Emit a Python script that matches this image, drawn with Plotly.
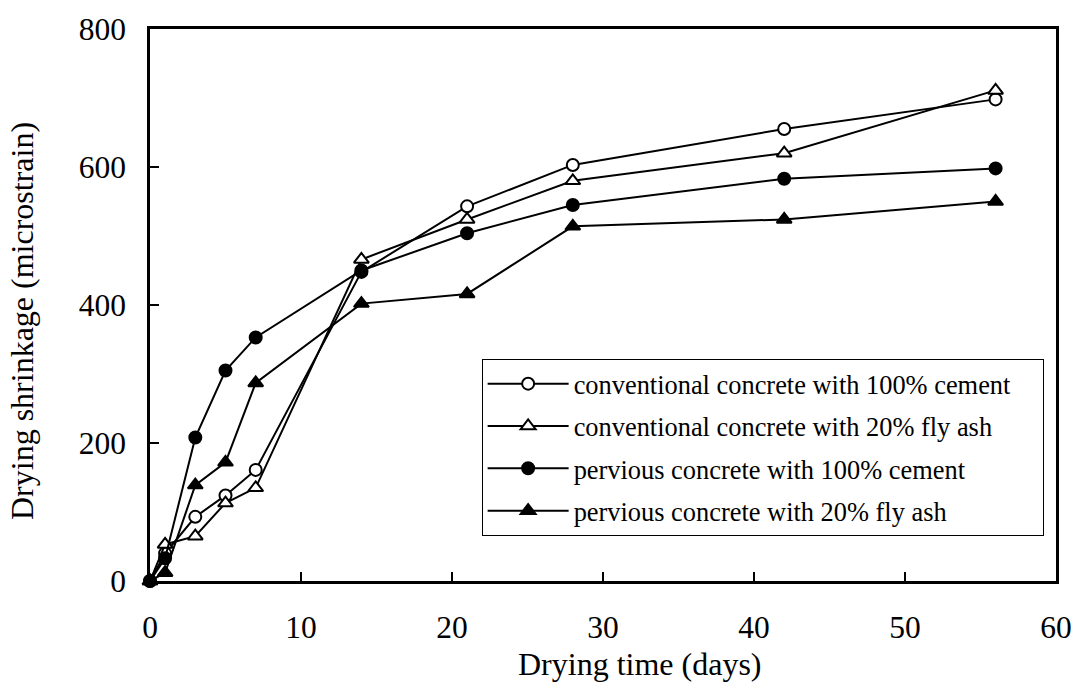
import plotly.graph_objects as go

days = [0, 1, 3, 5, 7, 14, 21, 28, 42, 56]
conv_cement = [0, 40, 93, 124, 161, 448, 543, 603, 655, 698]
conv_flyash = [0, 53, 65, 113, 135, 466, 524, 580, 620, 711]
perv_cement = [0, 33, 208, 305, 353, 450, 504, 545, 583, 598]
perv_flyash = [0, 12, 139, 172, 287, 402, 416, 514, 524, 550]

names = [
    "conventional concrete with 100% cement\u00a0\u00a0\u00a0\u00a0",
    "conventional concrete with 20% fly ash",
    "pervious concrete with 100% cement",
    "pervious concrete with 20% fly ash",
]
series = [conv_cement, conv_flyash, perv_cement, perv_flyash]
symbols = ["circle", "triangle-up", "circle", "triangle-up"]
fills = ["white", "white", "black", "black"]

x_ticks = [0, 10, 20, 30, 40, 50, 60]
y_ticks = [0, 200, 400, 600, 800]

FONT = "Liberation Serif"
TICK_SIZE = 31.5
TITLE_SIZE = 32
LEG_SIZE = 26.4

fig = go.Figure()
for i, (name, ys, sym, fc) in enumerate(zip(names, series, symbols, fills)):
    fig.add_trace(go.Scatter(
        x=days, y=ys, name=name, mode="lines+markers",
        legendgroup=f"g{i}",
        line=dict(color="black", width=2),
        marker=dict(symbol=sym, size=12 if sym == "circle" else 13,
                    color=fc, line=dict(color="black", width=2)),
        cliponaxis=False,
    ))

fig.update_layout(
    width=1084, height=687,
    margin=dict(l=150, r=27, t=24, b=106),
    paper_bgcolor="white", plot_bgcolor="white",
    font=dict(family=FONT, size=TICK_SIZE, color="black"),
    showlegend=True,
    legend=dict(
        x=(482 - 150) / 907, y=(581 - 357) / 557, xanchor="left", yanchor="top",
        bgcolor="white", bordercolor="black", borderwidth=1,
        font=dict(family=FONT, size=LEG_SIZE, color="black"),
        itemwidth=81, tracegroupgap=5,
    ),
    xaxis=dict(
        range=[0, 60], tickvals=x_ticks,
        ticks="inside", ticklen=9, tickwidth=2, tickcolor="black",
        showline=True, linecolor="black", linewidth=2.5, mirror=True,
        showgrid=False, zeroline=False,
        tickfont=dict(family=FONT, size=TICK_SIZE),
        ticklabelstandoff=16,
    ),
    yaxis=dict(
        range=[0, 800], tickvals=y_ticks,
        ticks="inside", ticklen=9, tickwidth=2, tickcolor="black",
        showline=True, linecolor="black", linewidth=2.5, mirror=True,
        showgrid=False, zeroline=False,
        tickfont=dict(family=FONT, size=TICK_SIZE),
        ticklabelstandoff=15,
    ),
    annotations=[
        dict(text="Drying time (days)", xref="paper", yref="paper",
             x=(641 - 150) / 907, y=(581 - 665) / 557,
             xanchor="center", yanchor="middle", showarrow=False,
             font=dict(family=FONT, size=TITLE_SIZE, color="black")),
        dict(text="Drying shrinkage (microstrain)", xref="paper", yref="paper",
             x=(22 - 150) / 907, y=(581 - 318.5) / 557, textangle=-90,
             xanchor="center", yanchor="middle", showarrow=False,
             font=dict(family=FONT, size=TITLE_SIZE, color="black")),
    ],
)

fig.write_html("out.html")
